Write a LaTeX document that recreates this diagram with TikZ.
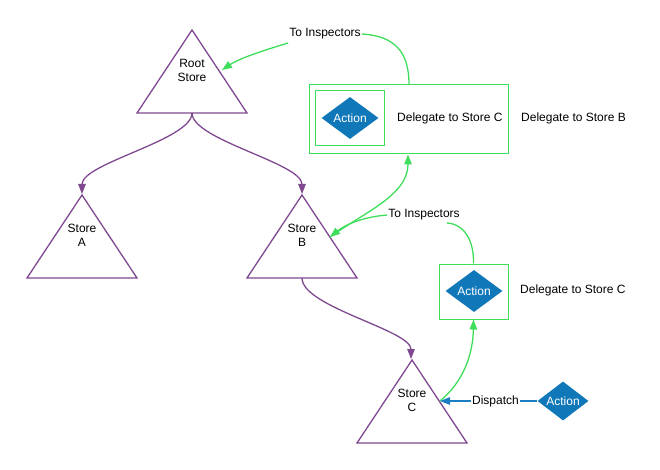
\documentclass[tikz,border=0pt]{standalone}
\usepackage{fontspec}
\setmainfont{Liberation Sans}
\usetikzlibrary{shapes.geometric,arrows.meta}
\definecolor{storepurple}{HTML}{7F4890}
\definecolor{flowgreen}{HTML}{3EDE5C}
\definecolor{actblue}{HTML}{1078B8}
\definecolor{lineblue}{HTML}{1A7EC2}
\tikzset{
  every node/.style={font=\fontsize{12}{14}\selectfont, inner sep=1pt},
  storetri/.style={draw=storepurple, line width=1.3pt, line join=miter},
  storetext/.style={align=center},
  purplearrow/.style={draw=storepurple, line width=1.3pt, -{Triangle[length=10pt,width=7.5pt]}},
  greenarrow/.style={draw=flowgreen, line width=1.3pt, -{Triangle[length=10pt,width=7.5pt]}},
  greenline/.style={draw=flowgreen, line width=1.3pt},
  bluearrow/.style={draw=lineblue, line width=1.3pt, -{Triangle[length=10pt,width=7.5pt]}},
  actiondia/.style={diamond, fill=actblue, text=white, inner sep=0pt, aspect=1.36,
    minimum width=57pt, minimum height=42pt},
  greenbox/.style={draw=flowgreen, line width=1pt, inner sep=0pt},
  lbl/.style={fill=white, inner sep=1pt},
}
\begin{document}
\begin{tikzpicture}[x=1pt,y=-1pt]
\useasboundingbox (0,0) rectangle (660,470);
% triangles
\draw[storetri] (192,30) -- (247,113) -- (137,113) -- cycle;
\draw[storetri] (82,195) -- (137,278) -- (27,278) -- cycle;
\draw[storetri] (302,195) -- (357,278) -- (247,278) -- cycle;
\draw[storetri] (412,360) -- (467,443) -- (357,443) -- cycle;
\node[storetext] (roottxt) at (192,70) {Root\\Store};
\node[storetext] (atxt) at (82,235) {Store\\A};
\node[storetext] (btxt) at (302,235) {Store\\B};
\node[storetext] (ctxt) at (412,400) {Store\\C};
% attach points
\coordinate (rootbase) at (192,113);
\coordinate (rootright) at (222,70);
\coordinate (aapex) at (82,194);
\coordinate (bapex) at (302,194);
\coordinate (bbase) at (302,278);
\coordinate (bright) at (330,237);
\coordinate (capex) at (411,359);
\coordinate (cright) at (440,401);
% boxes
\node[greenbox, minimum width=199pt, minimum height=69pt] (bigbox) at (408.5,119.5) {};
\node[greenbox, minimum width=69pt, minimum height=55pt] (innerbox) at (349.5,118.5) {};
\node[actiondia] (act1) at (350,118) {Action};
\node[anchor=west] (del1) at (396,118) {Delegate to Store C};
\node[anchor=west] (del2) at (520,118) {Delegate to Store B};
\node[greenbox, minimum width=69pt, minimum height=55pt] (box2) at (473.5,291.5) {};
\node[actiondia] (act2) at (474,291) {Action};
\node[anchor=west] (del3) at (519,290) {Delegate to Store C};
\node[actiondia, minimum width=51pt, minimum height=39pt] (act3) at (563,401) {Action};
% purple arrows
\draw[purplearrow] (rootbase) .. controls (192,140) and (82,163) .. (aapex);
\draw[purplearrow] (rootbase) .. controls (192,140) and (302,163) .. (bapex);
\draw[purplearrow] (bbase) .. controls (302,307) and (411,330) .. (capex);
% green: big box to root
\node (insp1) at (325,34) {To Inspectors};
\draw[greenline] (bigbox.north -| 409,0) .. controls (409,52) and (395,36) .. (insp1.east);
\draw[greenarrow] (insp1.west |- 0,43) .. controls (265,50) and (240,58) .. (rootright);
% green: store B to big box
\draw[greenarrow] (bright) .. controls (365,212) and (408,195) .. (bigbox.south -| 408,0);
% green: box2 to store B
\node (insp2) at (424,215) {To Inspectors};
\draw[greenline] (box2.north) .. controls (474,240) and (464,224) .. (447,223);
\draw[greenarrow] (insp2.west) .. controls (362,217) and (345,225) .. (bright);
% green: store C to box2
\draw[greenarrow] (cright) .. controls (463,382) and (473,355) .. (box2.south);
% dispatch
\draw[bluearrow] (act3.west) -- node[lbl, pos=0.43] (disp) {Dispatch} (cright);
\end{tikzpicture}
\end{document}
